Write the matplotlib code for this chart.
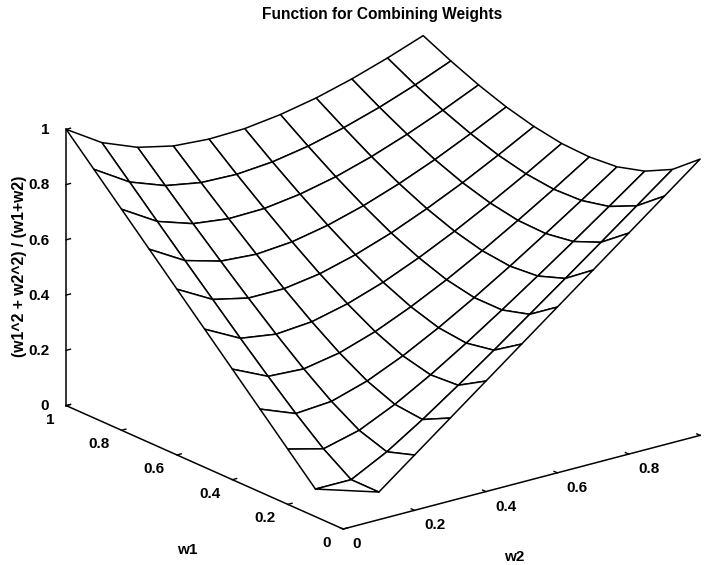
import numpy as np
import matplotlib
matplotlib.use('Agg')
import matplotlib.pyplot as plt

plt.rcParams['font.family'] = ['Liberation Sans', 'DejaVu Sans']
plt.rcParams['font.weight'] = 'bold'

w2_values = [0, 0.1, 0.2, 0.3, 0.4, 0.5, 0.6, 0.7, 0.8, 0.9, 1]
w1_values = [0, 0.1, 0.2, 0.3, 0.4, 0.5, 0.6, 0.7, 0.8, 0.9, 1]
# rows are w1, columns are w2
z_values = [
    [np.nan, .1, .2, .3, .4, .5, .6, .7, .8, .9, 1],
    [.1, .1, .167, .25, .34, .433, .529, .625, .722, .82, .918],
    [.2, .167, .2, .26, .333, .414, .5, .589, .68, .773, .867],
    [.3, .25, .26, .3, .357, .425, .5, .58, .664, .75, .838],
    [.4, .34, .333, .357, .4, .456, .52, .591, .667, .746, .829],
    [.5, .433, .414, .425, .456, .5, .555, .617, .685, .757, .833],
    [.6, .529, .5, .5, .52, .555, .6, .654, .714, .78, .85],
    [.7, .625, .589, .58, .591, .617, .654, .7, .753, .813, .876],
    [.8, .722, .68, .664, .667, .685, .714, .753, .8, .853, .911],
    [.9, .82, .773, .75, .746, .757, .78, .813, .853, .9, .953],
    [1, .918, .867, .838, .829, .833, .85, .876, .911, .953, 1],
]
ticks = [0, 0.2, 0.4, 0.6, 0.8, 1]
w1_labels = ['0', '0.2', '0.4', '0.6', '0.8', '1']
w2_labels = ['0', '0.2', '0.4', '0.6', '0.8', '']
z_labels = ['0', '0.2', '0.4', '0.6', '0.8', '1']

fig = plt.figure(figsize=(7.1, 5.65), dpi=100)
# axes bigger than the figure, otherwise the surface gets clipped at the sides
ax = fig.add_axes([-79 / 710, -179.5 / 565, 900 / 710, 900 / 565], projection='3d')
ax.set_proj_type('ortho')
ax.view_init(elev=20, azim=-127.5)
ax.set_box_aspect((450, 455, 294), zoom=0.7596)

X, Y = np.meshgrid(w2_values, w1_values)
ax.plot_surface(X, Y, np.array(z_values), rstride=1, cstride=1, color='white',
                edgecolor='black', linewidth=1.1, shade=False, antialiased=True)

ax.set_xlim(0, 1, view_margin=0)
ax.set_ylim(0, 1, view_margin=0)
ax.set_zlim(0, 1, view_margin=0)
ax.set_xticks(ticks)
ax.set_xticklabels(w2_labels, fontsize=11, ha='left', va='center_baseline')
ax.set_yticks(ticks)
ax.set_yticklabels(w1_labels, fontsize=11, ha='right', va='center_baseline')
ax.set_zticks(ticks)
ax.set_zticklabels(z_labels, fontsize=11, ha='right', va='center_baseline')
ax.grid(False)
for axis in (ax.xaxis, ax.yaxis, ax.zaxis):
    axis.set_pane_color((1, 1, 1, 0))
    axis.pane.set_edgecolor((1, 1, 1, 0))
    axis.line.set_color('black')
    axis.line.set_linewidth(1.1)
    axis._axinfo['tick']['inward_factor'] = 0.0
    axis._axinfo['tick']['outward_factor'] = 0.15
    axis._axinfo['tick']['linewidth'] = {True: 1.0, False: 0.5}
ax.zaxis.set_ticks_position('upper')
ax.tick_params(axis='z', pad=1)

fig.text(187 / 710, 1 - 550 / 565, 'w1', fontsize=11, fontweight='bold', ha='center', va='center')
fig.text(514 / 710, 1 - 557 / 565, 'w2', fontsize=11, fontweight='bold', ha='center', va='center')
fig.text(20 / 710, 1 - 266 / 565, '(w1^2 + w2^2) / (w1+w2)', fontsize=11.3, fontweight='bold',
         rotation=90, ha='center', va='center')
fig.text(382.5 / 710, 1 - 19 / 565, 'Function for Combining Weights', fontsize=11.2, fontweight='bold', ha='center')

fig.savefig('out.png', dpi=100)
